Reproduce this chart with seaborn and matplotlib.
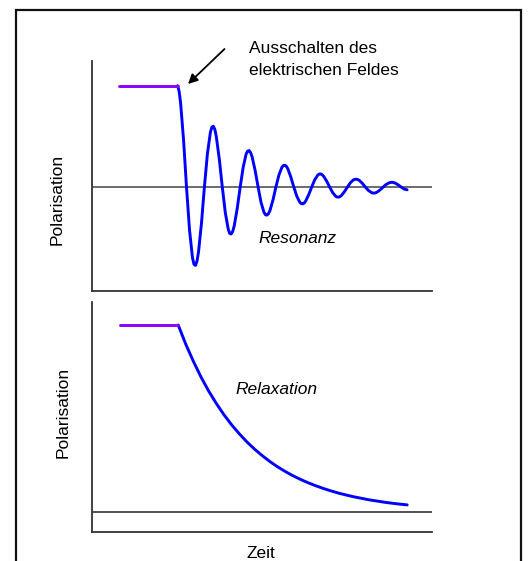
import matplotlib
matplotlib.use("Agg")
import matplotlib.pyplot as plt
import seaborn as sns
import pandas as pd
from matplotlib.patches import Rectangle

# ---------------- data ----------------
# top panel: field switched on (flat), then damped oscillation (Resonanz)
field_top_t = [2.70, 8.61]
field_top_p = [10.13, 10.13]

res_t = [8.61, 8.76, 8.91, 9.21, 9.50, 9.80, 10.10, 10.25,
         10.40, 10.55, 10.70, 11.00, 11.29, 11.59, 11.89, 12.04,
         12.19, 12.34, 12.48, 12.78, 13.08, 13.38, 13.68, 13.82,
         13.97, 14.12, 14.27, 14.57, 14.87, 15.17, 15.46, 15.61,
         15.76, 15.91, 16.06, 16.36, 16.66, 16.95, 17.25, 17.40,
         17.55, 17.70, 17.85, 18.15, 18.44, 18.74, 19.04, 19.19,
         19.34, 19.49, 19.64, 19.93, 20.23, 20.53, 20.83, 20.98,
         21.13, 21.28, 21.42, 21.72, 22.02, 22.32, 22.62, 22.76,
         22.91, 23.06, 23.21, 23.51, 23.81, 24.11, 24.40, 24.55,
         24.70, 24.85, 25.00, 25.30, 25.60, 25.89, 26.19, 26.34,
         26.49, 26.64, 26.79, 27.09, 27.38, 27.68, 27.98, 28.13,
         28.28, 28.43, 28.58, 28.87, 29.17, 29.47, 29.77, 29.92,
         30.07, 30.22, 30.36, 30.66, 30.96, 31.26, 31.56]
res_p = [10.13, 9.58, 8.41, 4.65, 0.00, -4.27, -7.09, -7.74,
         -7.84, -7.41, -6.51, -3.60, 0.00, 3.31, 5.48, 5.99,
         6.07, 5.74, 5.04, 2.79, 0.00, -2.56, -4.25, -4.64,
         -4.70, -4.44, -3.90, -2.16, 0.00, 1.98, 3.29, 3.59,
         3.64, 3.44, 3.02, 1.67, 0.00, -1.53, -2.54, -2.78,
         -2.81, -2.66, -2.34, -1.29, 0.00, 1.19, 1.97, 2.15,
         2.18, 2.06, 1.81, 1.00, 0.00, -0.92, -1.52, -1.66,
         -1.69, -1.59, -1.40, -0.77, 0.00, 0.71, 1.18, 1.29,
         1.31, 1.23, 1.08, 0.60, 0.00, -0.55, -0.91, -1.00,
         -1.01, -0.96, -0.84, -0.46, 0.00, 0.43, 0.71, 0.77,
         0.78, 0.74, 0.65, 0.36, 0.00, -0.33, -0.55, -0.60,
         -0.61, -0.57, -0.50, -0.28, 0.00, 0.26, 0.42, 0.46,
         0.47, 0.44, 0.39, 0.22, 0.00, -0.20, -0.28]

# bottom panel: field switched on (flat), then exponential decay (Relaxation)
field_bot_t = [2.85, 8.67]
field_bot_p = [18.70, 18.70]

rel_t = [8.67, 9.43, 10.20, 10.96, 11.72, 12.49, 13.25, 14.01, 14.78, 15.54, 16.30,
         17.07, 17.83, 18.59, 19.36, 20.12, 20.88, 21.65, 22.41, 23.17, 23.94,
         24.70, 25.46, 26.23, 26.99, 27.75, 28.52, 29.28, 30.04, 30.81, 31.57]
rel_p = [18.70, 16.77, 15.04, 13.48, 12.09, 10.84, 9.72, 8.72, 7.82, 7.01, 6.29,
         5.64, 5.05, 4.53, 4.06, 3.64, 3.27, 2.93, 2.63, 2.36, 2.11,
         1.89, 1.70, 1.52, 1.37, 1.22, 1.10, 0.98, 0.88, 0.79, 0.71]

# ---------------- styling ----------------
sns.set_theme(style="white")
plt.rcParams["font.family"] = ["Liberation Sans", "DejaVu Sans"]
plt.rcParams["text.color"] = "black"
FS = 12.5
BLUE = "#0000ff"
VIOLET = "#8a00ff"
AXC = "#333333"

W, H = 528, 561
fig = plt.figure(figsize=(W / 100, H / 100), dpi=100)
fig.patch.set_facecolor("white")


def fx(px):
    return px / W


def fy(py):
    return 1 - py / H


ax_top = fig.add_axes([fx(91.5), fy(291), fx(431.5) - fx(91.5), fy(61) - fy(291)])
ax_bot = fig.add_axes([fx(91.5), fy(532), fx(431.5) - fx(91.5), fy(302) - fy(532)])

for ax in (ax_top, ax_bot):
    ax.set_xlim(0, 34)
    ax.set_xticks([])
    ax.set_yticks([])
    ax.set_facecolor("none")
    for side in ("top", "right"):
        ax.spines[side].set_visible(False)
    for side in ("left", "bottom"):
        ax.spines[side].set_color(AXC)
        ax.spines[side].set_linewidth(1.3)

ax_top.set_ylim(-10.4, 12.6)
ax_bot.set_ylim(-2.0, 21.0)

# zero / baseline lines
ax_top.axhline(0, color="#444444", lw=1.1, zorder=1)
ax_bot.axhline(0, color="#222222", lw=1.1, zorder=1)

df_ft = pd.DataFrame({"Zeit": field_top_t, "Polarisation": field_top_p})
df_res = pd.DataFrame({"Zeit": res_t, "Polarisation": res_p})
df_fb = pd.DataFrame({"Zeit": field_bot_t, "Polarisation": field_bot_p})
df_rel = pd.DataFrame({"Zeit": rel_t, "Polarisation": rel_p})

lw = 2.1
sns.lineplot(data=df_res, x="Zeit", y="Polarisation", ax=ax_top, color=BLUE, lw=lw,
             solid_joinstyle="round", zorder=3)
sns.lineplot(data=df_ft, x="Zeit", y="Polarisation", ax=ax_top, color=VIOLET, lw=lw, zorder=4)
sns.lineplot(data=df_rel, x="Zeit", y="Polarisation", ax=ax_bot, color=BLUE, lw=lw,
             solid_joinstyle="round", zorder=3)
sns.lineplot(data=df_fb, x="Zeit", y="Polarisation", ax=ax_bot, color=VIOLET, lw=lw, zorder=4)

for ax in (ax_top, ax_bot):
    ax.set_xlabel("")
    ax.set_ylabel("")

# annotations
ax_top.text(15.75, 13.37, "Ausschalten des", fontsize=FS, va="baseline", ha="left", color="black")
ax_top.text(15.75, 11.20, "elektrischen Feldes", fontsize=FS, va="baseline", ha="left", color="black")
ax_top.annotate("", xy=(9.65, 10.3), xytext=(13.3, 13.8),
                arrowprops=dict(arrowstyle="-|>", color="black", lw=1.3, mutation_scale=14,
                                shrinkA=0, shrinkB=0),
                annotation_clip=False)
ax_top.text(16.65, -5.63, "Resonanz", fontsize=FS, style="italic", va="baseline", ha="left")
ax_bot.text(14.35, 11.77, "Relaxation", fontsize=FS, style="italic", va="baseline", ha="left")

# axis labels
fig.text(fx(61.7), fy(199.5), "Polarisation", fontsize=FS, rotation=90,
         ha="center", va="baseline", rotation_mode="anchor")
fig.text(fx(68.0), fy(412.7), "Polarisation", fontsize=FS, rotation=90,
         ha="center", va="baseline", rotation_mode="anchor")
fig.text(fx(261), fy(557.5), "Zeit", fontsize=FS, ha="center", va="baseline")

# outer frame (bottom edge lies outside the image)
fig.add_artist(Rectangle((fx(15.5), -0.1), fx(520.5) - fx(15.5), fy(9.5) + 0.1,
                         transform=fig.transFigure, fill=False, lw=1.6, ec="#111111",
                         clip_on=False))

fig.savefig("out.png", dpi=100)
